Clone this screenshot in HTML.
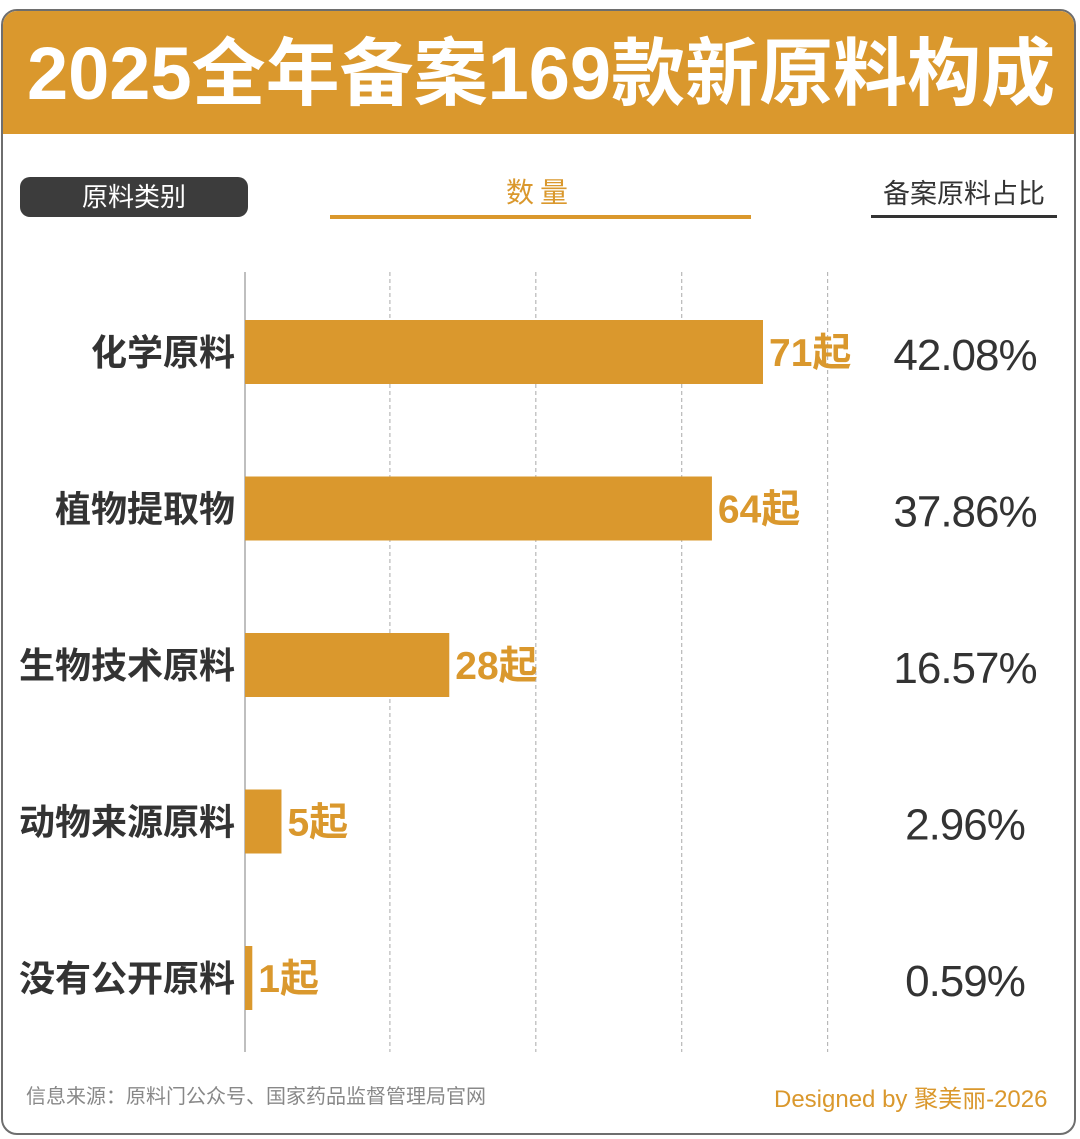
<!DOCTYPE html>
<html><head><meta charset="utf-8"><style>
body{margin:0;width:1080px;height:1139px;background:#fff;font-family:"Liberation Sans","Noto Sans CJK SC",sans-serif;position:relative;overflow:hidden}
.card{position:absolute;left:1px;top:9px;width:1075px;height:1126px;border:2px solid #6e6e6e;border-radius:16px;box-sizing:border-box;overflow:hidden}
.hdr{position:absolute;left:0;top:0;width:100%;height:123px;background:#DA982D}
.title{position:absolute;left:24px;top:18px;color:#fff;font-size:74px;font-weight:bold;letter-spacing:0px;white-space:nowrap;line-height:90px}
.abs{position:absolute;white-space:nowrap}
</style></head><body>
<div class="card">
<div class="hdr"><div class="title">2025全年备案169款新原料构成</div></div>
</div>
<div class="abs" style="left:20px;top:177px;width:228px;height:40px;background:#3c3c3c;border-radius:10px;color:#fff;font-size:26px;text-align:center;line-height:40px">原料类别</div>
<div class="abs" style="left:330px;top:172px;width:420px;text-align:center;color:#DA982D;font-size:28px;letter-spacing:6px;line-height:42px">数量</div>
<div class="abs" style="left:330px;top:215px;width:421px;height:4px;background:#DA982D"></div>
<div class="abs" style="left:872px;top:174px;width:184px;text-align:center;color:#333;font-size:27px;line-height:40px">备案原料占比</div>
<div class="abs" style="left:871px;top:215px;width:186px;height:3px;background:#333"></div>
<svg id="chart" width="1080" height="1139" style="position:absolute;left:0;top:0"></svg>
<div class="abs" style="left:26px;top:1080px;color:#888;font-size:20px">信息来源：原料门公众号、国家药品监督管理局官网</div>
<div class="abs" style="left:774px;top:1079px;color:#DA982D;font-size:24px">Designed by 聚美丽-2026</div>
<script>
const categories=["化学原料","植物提取物","生物技术原料","动物来源原料","没有公开原料"];
const counts=[71,64,28,5,1];
const shares=["42.08%","37.86%","16.57%","2.96%","0.59%"];
const gridTicks=[20,40,60,80];
const svg=document.getElementById('chart');
const NS='http://www.w3.org/2000/svg';
const x0=245,scale=(763-245)/71;
const xs=v=>x0+v*scale;
const ys=i=>352+i*156.5;
function mk(t,a){const e=document.createElementNS(NS,t);for(const k in a)e.setAttribute(k,a[k]);svg.appendChild(e);return e;}
gridTicks.forEach(t=>{
 const l=mk('line',{x1:xs(t)-1,x2:xs(t)-1,y1:272,y2:1052,stroke:'#aaa','stroke-width':1,'stroke-dasharray':'4,3'});
 
 
});
const ax=mk('line',{x1:x0,x2:x0,y1:272,y2:1052,stroke:'#aaa','stroke-width':1.5});


categories.forEach((c,i)=>{
 const y=ys(i);
 const r=mk('rect',{x:x0,y:y-32,width:xs(counts[i])-x0,height:64,fill:'#DA982D'});
 
 
 const lab=mk('text',{x:235,y:y+13,'text-anchor':'end','font-size':36,'font-weight':'bold',fill:'#333'});
 lab.textContent=c;
 
 
 const v=mk('text',{x:xs(counts[i])+6,y:y+14,'font-size':39,'font-weight':'bold',fill:'#DA982D'});
 v.textContent=counts[i]+'起';
 
 
 const s=mk('text',{x:965,y:y+18,'text-anchor':'middle','font-size':44,fill:'#333','letter-spacing':'-1'});
 s.textContent=shares[i];
 
 
});
</script>
</body></html>
